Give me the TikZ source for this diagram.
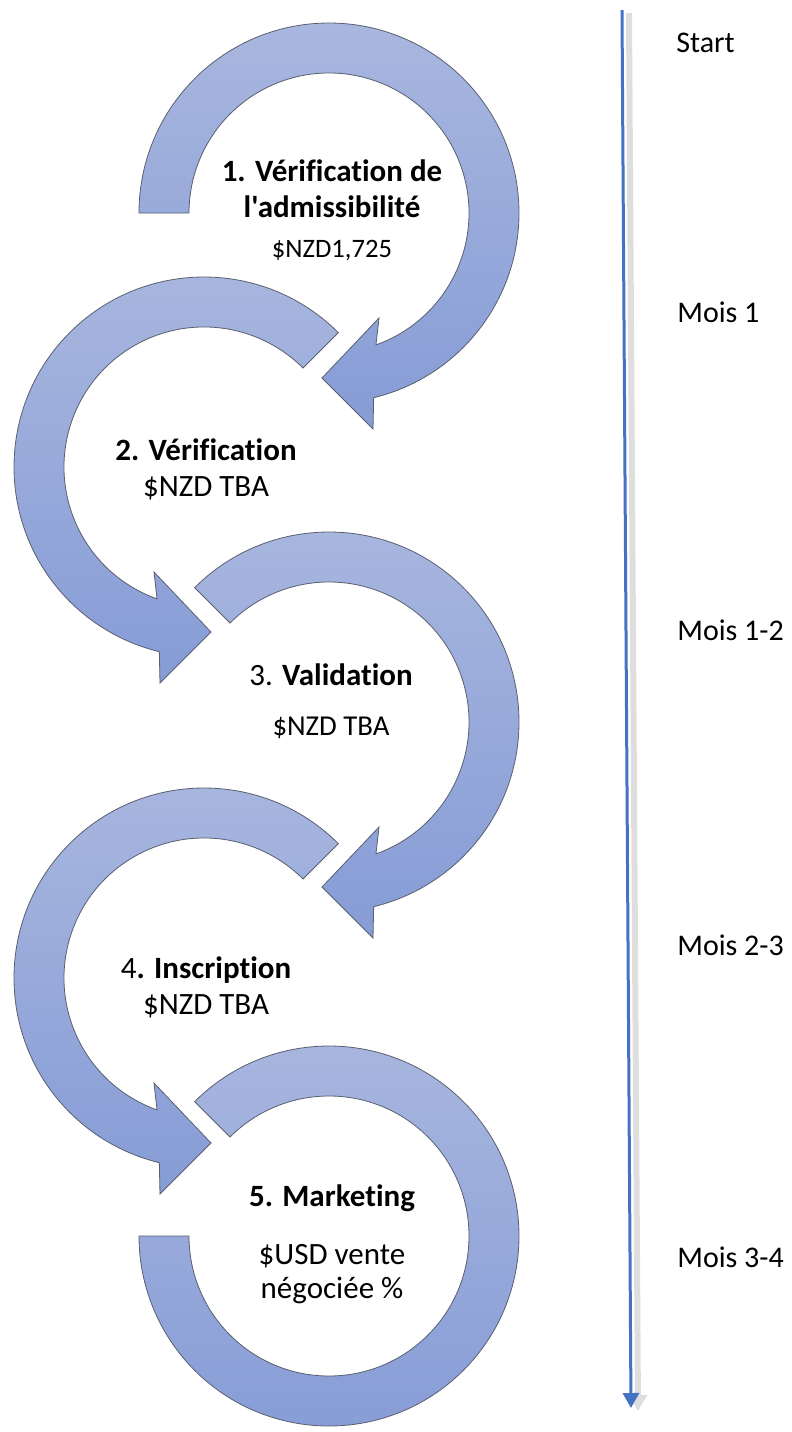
\documentclass[tikz,border=0pt]{standalone}
\usepackage{fontspec}
\setmainfont{Carlito}[Ligatures={TeXOff,CommonOff}]
\usepackage{xcolor}
\usetikzlibrary{arrows.meta,positioning}
\definecolor{ringtop}{HTML}{A9B7DF}
\definecolor{ringbot}{HTML}{869CD6}
\definecolor{ringline}{HTML}{5A5F70}
\definecolor{tlblue}{HTML}{4472C4}
\newcommand{\headring}[1]{%
  \path[ring] (#1:190) arc[start angle=#1, end angle=-76.4, radius=190]
    -- (44,-216) -- (-7,-165) -- (50,-105) -- (-70.4:140)
    arc[start angle=-70.4, end angle=#1, radius=140] -- cycle;}

\begin{document}
\begin{tikzpicture}[x=0.5pt, y=0.5pt,
                    ring/.style={draw=ringline, line width=0.4pt, top color=ringtop, bottom color=ringbot},
                    steptext/.style={align=center, inner sep=0pt, font=\fontsize{15.5}{18}\selectfont},
                    monthlabel/.style={anchor=west, inner sep=0pt, font=\fontsize{15}{18}\selectfont},
                    timeline/.style={tlblue, line width=1.5pt, -{Triangle[width=8pt,length=7.5pt]}},
                    tlshadow/.style={black!13, line width=3pt, -{Triangle[width=9pt,length=8pt]}},
                   ]

\useasboundingbox (0,0) rectangle (792,-1432);

\coordinate (c1) at (329,-213);
\coordinate (c2) at (204,-467);
\coordinate (c3) at (329,-722);
\coordinate (c4) at (204,-978);
\coordinate (c5) at (329,-1236);

% the five ring arrows
\begin{scope}[shift={(c1)}] \headring{180} \end{scope}
\begin{scope}[shift={(c2)}, xscale=-1] \headring{135} \end{scope}
\begin{scope}[shift={(c3)}] \headring{135} \end{scope}
\begin{scope}[shift={(c4)}, xscale=-1] \headring{135} \end{scope}
\begin{scope}[shift={(c5)}]
  \path[ring] (135:190) arc[start angle=135, end angle=-180, radius=190]
    -- (-180:140) arc[start angle=-180, end angle=135, radius=140] -- cycle;
\end{scope}

\node[steptext] (step1) at (332,-210) {\textbf{1. Vérification de}\\\textbf{l'admissibilité}\\[2pt]{\fontsize{13.3}{15}\selectfont\$NZD1,725}};
\node[steptext] (step2) at (206,-469) {\textbf{2. Vérification}\\\$NZD TBA};
\node[steptext] (step3) at (331,-701) {3. \textbf{Validation}\\[7pt]{\fontsize{14.4}{16}\selectfont\$NZD TBA}};
\node[steptext] (step4) at (206,-987) {4\textbf{. Inscription}\\\$NZD TBA};
\node[steptext] (step5) at (332,-1244) {\textbf{5. Marketing}\\[11pt]\$USD vente\\[-1pt]négociée \%};

% time line
\coordinate (tltop) at (622,-10);
\coordinate (tlbot) at (631,-1408);
\draw[tlshadow] ([shift={(7,-3)}]tltop) -- ([shift={(7,-3)}]tlbot);
\draw[timeline] (tltop) -- (tlbot);

\node[monthlabel] (start) at (676,-43) {Start};
\node[monthlabel] (m1) at (677,-312) {Mois 1};
\node[monthlabel] (m12) at (677,-630) {Mois 1-2};
\node[monthlabel] (m23) at (677,-945) {Mois 2-3};
\node[monthlabel] (m34) at (677,-1257) {Mois 3-4};

\end{tikzpicture}
\end{document}
